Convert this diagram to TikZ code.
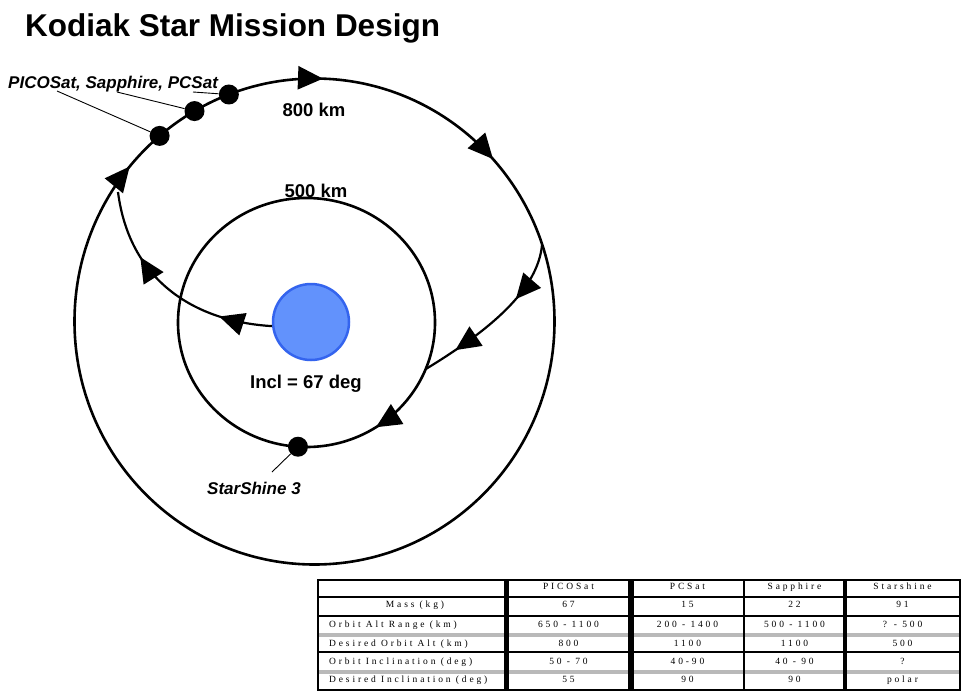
\documentclass[tikz,border=0pt]{standalone}
\usepackage{fontspec}
\setmainfont{Liberation Sans}
\newfontfamily\tabfont{Liberation Serif}[LetterSpace=30]
\usetikzlibrary{arrows.meta,decorations.markings}
\definecolor{earthfill}{RGB}{98,146,252}
\definecolor{earthdraw}{RGB}{52,100,238}
\definecolor{rulegray}{RGB}{185,185,185}
\newcommand{\bigtip}{\arrow{Triangle[length=25pt,width=23pt]}}
\tikzset{
  orbit/.style={line width=2.6pt},
  transfer/.style={line width=2.2pt},
  leader/.style={line width=0.9pt},
  satdot/.style={circle, fill=black, minimum size=20pt, inner sep=0pt},
  biglabel/.style={font=\fontsize{18.5}{22}\selectfont\bfseries, inner sep=0pt, anchor=base},
  satlabel/.style={font=\fontsize{17}{20}\selectfont\bfseries\itshape, inner sep=0pt, anchor=base west},
  cell/.style={font=\tabfont\fontsize{9.5}{11}\selectfont, inner sep=0pt, anchor=base},
  rowlab/.style={cell, anchor=base west},
  blackrule/.style={line width=2.8pt},
  grayrule/.style={line width=3.2pt, draw=rulegray}
}
\begin{document}
\begin{tikzpicture}[x=1pt,y=-1pt]
\useasboundingbox (0,0) rectangle (961,691);
\fill[white] (0,0) rectangle (961,691);

% title
\node[anchor=base west, inner sep=0pt, font=\fontsize{31.5}{37}\selectfont\bfseries] (title) at (25,36) {Kodiak Star Mission Design};

% centres
\coordinate (O) at (314.5,321.5);
\coordinate (I) at (306.5,322.5);

% outer orbit (800 km), clockwise
\draw[orbit, decoration={markings,
    mark=at position 0.6106 with {\bigtip},
    mark=at position 0.7556 with {\bigtip},
    mark=at position 0.883 with {\bigtip}}, postaction=decorate]
  (O) ++(0:240pt and 243pt) arc[start angle=0, end angle=-360, x radius=240pt, y radius=243pt];

% inner orbit (500 km), clockwise
\draw[orbit, decoration={markings,
    mark=at position 0.158 with {\bigtip}}, postaction=decorate]
  (I) ++(0:128.5pt and 124.5pt) arc[start angle=0, end angle=-360, x radius=128.5pt, y radius=124.5pt];

% earth
\node[circle, minimum size=76pt, inner sep=0pt, fill=earthfill, draw=earthdraw, line width=2.5pt] (earth) at (311,322) {};

% transfer points
\coordinate (t1end) at (118,192);
\path (O) ++(18.5:240pt and 243pt) coordinate (t2start);
\path (I) ++(-22:128.5pt and 124.5pt) coordinate (t2end);

% transfer: earth to outer orbit
\draw[transfer, decoration={markings,
    mark=at position 0.24 with {\bigtip},
    mark=at position 0.69 with {\bigtip}}, postaction=decorate]
  (earth.186) .. controls (200,322) and (130,285) .. (t1end);

% transfer: outer orbit to inner orbit
\draw[transfer, decoration={markings,
    mark=at position 0.35 with {\bigtip},
    mark=at position 0.80 with {\bigtip}}, postaction=decorate]
  (t2start) .. controls (538,290) and (490,330) .. (t2end);

% satellites
\path (O) ++(110.9:240pt and 243pt) node[satdot] (s1) {};
\path (O) ++(120:240pt and 243pt) node[satdot] (s2) {};
\path (O) ++(130.2:240pt and 243pt) node[satdot] (s3) {};
\path (I) ++(-93.8:128.5pt and 124.5pt) node[satdot] (star) {};

% labels
\node[biglabel] (km800) at (314,116) {800 km};
\node[biglabel] (km500) at (316,197) {500 km};
\node[biglabel] (incl) at (306,388) {Incl = 67 deg};
\node[satlabel] (satlab) at (8,88) {PICOSat, Sapphire, PCSat};
\node[satlabel] (starlab) at (207,494) {StarShine 3};

% leaders
\coordinate (l1) at (57,91);
\coordinate (l2) at (117,92);
\coordinate (l3) at (193,92);
\coordinate (l4) at (272,472);
\draw[leader] (l1) -- (s3);
\draw[leader] (l2) -- (s2);
\draw[leader] (l3) -- (s1);
\draw[leader] (l4) -- (star);

% table rules
\draw[blackrule] (318,580) -- (960,580);
\draw[blackrule] (318,597) -- (960,597);
\draw[blackrule] (318,616) -- (960,616);
\draw[grayrule] (318,635) -- (960,635);
\draw[blackrule] (318,652) -- (960,652);
\draw[grayrule] (318,672) -- (960,672);
\draw[line width=1.6pt] (318,690) -- (960,690);
\draw[line width=1.8pt] (318,579) -- (318,691);
\draw[line width=2pt] (960,579) -- (960,691);
\draw[line width=5pt] (506,579) -- (506,691);
\draw[line width=5.5pt] (631,579) -- (631,691);
\draw[line width=2pt] (744,579) -- (744,691);
\draw[line width=3.5pt] (845,579) -- (845,691);

% table header
\node[cell] (h1) at (568.5,589.5) {PICOSat};
\node[cell] (h2) at (687.5,589.5) {PCSat};
\node[cell] (h3) at (794.5,589.5) {Sapphire};
\node[cell] (h4) at (902.5,589.5) {Starshine};
% mass
\node[cell] (r1) at (415,607.5) {Mass (kg)};
\node[cell] (c11) at (568.5,607.5) {67};
\node[cell] (c12) at (687.5,607.5) {15};
\node[cell] (c13) at (794.5,607.5) {22};
\node[cell] (c14) at (902.5,607.5) {91};
% orbit alt range
\node[rowlab] (r2) at (329,627.5) {Orbit Alt Range (km)};
\node[cell] (c21) at (568.5,627.5) {650 - 1100};
\node[cell] (c22) at (687.5,627.5) {200 - 1400};
\node[cell] (c23) at (794.5,627.5) {500 - 1100};
\node[cell] (c24) at (902.5,627.5) {? - 500};
% desired orbit alt
\node[rowlab] (r3) at (329,646) {Desired Orbit Alt (km)};
\node[cell] (c31) at (568.5,646) {800};
\node[cell] (c32) at (687.5,646) {1100};
\node[cell] (c33) at (794.5,646) {1100};
\node[cell] (c34) at (902.5,646) {500};
% orbit inclination
\node[rowlab] (r4) at (329,664.3) {Orbit Inclination (deg)};
\node[cell] (c41) at (568.5,664.3) {50 - 70};
\node[cell] (c42) at (687.5,664.3) {40-90};
\node[cell] (c43) at (794.5,664.3) {40 - 90};
\node[cell] (c44) at (902.5,664.3) {?};
% desired inclination
\node[rowlab] (r5) at (329,682.3) {Desired Inclination (deg)};
\node[cell] (c51) at (568.5,682.3) {55};
\node[cell] (c52) at (687.5,682.3) {90};
\node[cell] (c53) at (794.5,682.3) {90};
\node[cell] (c54) at (902.5,682.3) {polar};
\end{tikzpicture}
\end{document}
